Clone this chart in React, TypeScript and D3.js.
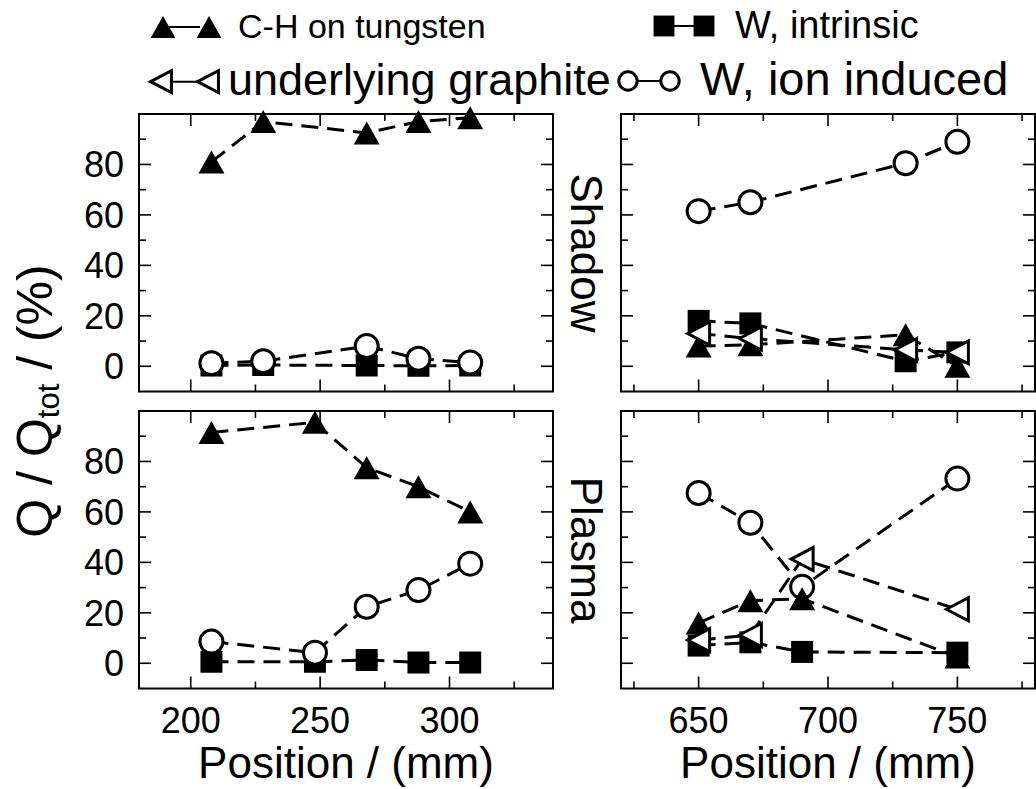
import * as d3 from "d3";

// tick values and labels
const xTicksLeft = [200, 250, 300];
const xMinorLeft = [225, 275, 325];
const xTicksRight = [650, 700, 750];
const xMinorRight = [625, 675, 725, 775];
const yTicks = [0, 20, 40, 60, 80];
const yMinor = [10, 30, 50, 70, 90];

// Shadow, low positions
const shadowLeftPos = [208, 228, 268, 288, 308];
const shadowLeftCH = [81, 97, 92.5, 97, 98.5];
const shadowLeftWIntr = [0.3, 0.5, 0.3, 0.2, 0.3];
const shadowLeftWIon = [1.2, 2, 8, 3, 1.5];

// Shadow, high positions
const shadowRightPos = [650, 670, 730, 750];
const shadowRightCH = [8, 8.5, 12.5, 0];
const shadowRightWIntr = [18, 17, 2, 5.5];
const shadowRightGraphite = [13, 11, 6.5, 5.5];
const shadowRightWIon = [61.5, 65, 80.5, 89];

// Plasma, low positions
const plasmaLeftPos = [208, 248, 268, 288, 308];
const plasmaLeftCH = [91.5, 95.5, 77.5, 70, 60];
const plasmaLeftWIntr = [0.6, 0.6, 1.3, 0.3, 0.3];
const plasmaLeftWIon = [8.6, 4.2, 22.4, 29, 39.5];

// Plasma, high positions
const plasmaRightPos = [650, 670, 690, 750];
const plasmaRightCH = [16, 24.8, 25.6, 2.5];
const plasmaRightWIntr = [7, 8.3, 4.5, 4.2];
const plasmaRightGraphite = [9.2, 11.2, 41.3, 21.4];
const plasmaRightWIon = [67.5, 55.7, 30.3, 73.2];

const FONT = "'Liberation Sans', Arial, Helvetica, sans-serif";
const LEFT_X = 139;
const RIGHT_X = 621;
const PANEL_W = 414;
const TOP_Y = 114;
const BOT_Y = 411;
const PANEL_H = 277.5;

// drawing order: square, circle, filled triangle, open triangle
const ORDER = ["wintr", "wion", "ch", "graphite"];

function markerPath(type, x, y, s = 1) {
  if (type === "ch") {
    const w = 26 * s, h = 23 * s;
    return `M${x - w / 2},${y + h / 2}L${x + w / 2},${y + h / 2}L${x},${y - h / 2}Z`;
  }
  if (type === "graphite") {
    const w = 22 * s, h = 23 * s;
    return `M${x - w / 2},${y}L${x + w / 2},${y - h / 2}L${x + w / 2},${y + h / 2}Z`;
  }
  if (type === "wintr") {
    const a = 22 * s;
    return `M${x - a / 2},${y - a / 2}h${a}v${a}h${-a}Z`;
  }
  return null;
}

function Marker({ type, x, y, s = 1 }) {
  if (type === "wion") {
    return <circle cx={x} cy={y} r={11.5 * s} fill="white" stroke="black" strokeWidth={3} />;
  }
  const open = type === "graphite";
  return (
    <path
      d={markerPath(type, x, y, s)}
      fill={open ? "white" : "black"}
      stroke={open ? "black" : "none"}
      strokeWidth={open ? 3 : 0}
      strokeLinejoin="miter"
    />
  );
}

function Panel({ x0, y0, xDomain, xMajor, xMinor, showXLabels, pos, series }) {
  const x = d3.scaleLinear().domain(xDomain).range([x0, x0 + PANEL_W]);
  const y = d3.scaleLinear().domain([-10, 100]).range([y0 + PANEL_H, y0]);
  const line = d3
    .line<number>()
    .x((_, i) => x(pos[i]))
    .y((d) => y(d));
  const yb = y0 + PANEL_H;
  const xr = x0 + PANEL_W;
  const keys = ORDER.filter((k) => series[k]);
  return (
    <g>
      {keys.map((k) => (
        <path key={"l" + k} d={line(series[k]) || ""} fill="none" stroke="black" strokeWidth={3} strokeDasharray="17 9" />
      ))}
      {keys.map((k) =>
        series[k].map((v, i) => <Marker key={k + i} type={k} x={x(pos[i])} y={y(v)} />)
      )}
      <rect x={x0} y={y0} width={PANEL_W} height={PANEL_H} fill="none" stroke="black" strokeWidth={2} />
      {xMajor.map((t) => (
        <g key={"xM" + t}>
          <line x1={x(t)} x2={x(t)} y1={yb} y2={yb - 12} stroke="black" strokeWidth={1.6} />
          <line x1={x(t)} x2={x(t)} y1={y0} y2={y0 + 12} stroke="black" strokeWidth={1.6} />
        </g>
      ))}
      {xMinor.map((t) => (
        <g key={"xm" + t}>
          <line x1={x(t)} x2={x(t)} y1={yb} y2={yb - 7} stroke="black" strokeWidth={1.6} />
          <line x1={x(t)} x2={x(t)} y1={y0} y2={y0 + 7} stroke="black" strokeWidth={1.6} />
        </g>
      ))}
      {yTicks.map((t) => (
        <g key={"yM" + t}>
          <line x1={x0} x2={x0 + 12} y1={y(t)} y2={y(t)} stroke="black" strokeWidth={1.6} />
          <line x1={xr} x2={xr - 12} y1={y(t)} y2={y(t)} stroke="black" strokeWidth={1.6} />
        </g>
      ))}
      {yMinor.map((t) => (
        <g key={"ym" + t}>
          <line x1={x0} x2={x0 + 7} y1={y(t)} y2={y(t)} stroke="black" strokeWidth={1.6} />
          <line x1={xr} x2={xr - 7} y1={y(t)} y2={y(t)} stroke="black" strokeWidth={1.6} />
        </g>
      ))}
      {x0 === LEFT_X &&
        yTicks.map((t) => (
          <text key={"yl" + t} x={124} y={y(t)} dy="0.36em" textAnchor="end" fontSize={36} fontFamily={FONT}>
            {t}
          </text>
        ))}
      {showXLabels &&
        xMajor.map((t) => (
          <text key={"xl" + t} x={x(t)} y={733} textAnchor="middle" fontSize={36} fontFamily={FONT}>
            {t}
          </text>
        ))}
    </g>
  );
}

function LegendEntry({ type, x1, x2, cy, tx, ty, size, label, s }) {
  return (
    <g>
      <line x1={x1} x2={x2 - 9} y1={cy} y2={cy} stroke="black" strokeWidth={2} />
      <Marker type={type} x={x1} y={cy} s={s} />
      <Marker type={type} x={x2} y={cy} s={s} />
      <text x={tx} y={ty} fontSize={size} fontFamily={FONT}>
        {label}
      </text>
    </g>
  );
}

export default function App() {
  return (
    <svg width={1036} height={789} style={{ position: "absolute", left: 0, top: 0, background: "white" }}>
      <rect width={1036} height={789} fill="white" />
      <LegendEntry type="ch" x1={163} x2={209} cy={27} tx={238} ty={38} size={34} label="C-H on tungsten" s={0.95} />
      <LegendEntry type="wintr" x1={664} x2={704} cy={26} tx={735} ty={38} size={38} label="W, intrinsic" s={0.95} />
      <LegendEntry type="graphite" x1={161} x2={208} cy={81.7} tx={228} ty={95} size={45} label="underlying graphite" s={0.95} />
      <LegendEntry type="wion" x1={628} x2={670} cy={81} tx={700} ty={95} size={47} label="W, ion induced" s={0.8} />

      <Panel
        x0={LEFT_X} y0={TOP_Y} xDomain={[180, 340]} xMajor={xTicksLeft} xMinor={xMinorLeft} showXLabels={false}
        pos={shadowLeftPos}
        series={{ wintr: shadowLeftWIntr, wion: shadowLeftWIon, ch: shadowLeftCH }}
      />
      <Panel
        x0={RIGHT_X} y0={TOP_Y} xDomain={[620, 780]} xMajor={xTicksRight} xMinor={xMinorRight} showXLabels={false}
        pos={shadowRightPos}
        series={{ wintr: shadowRightWIntr, wion: shadowRightWIon, ch: shadowRightCH, graphite: shadowRightGraphite }}
      />
      <Panel
        x0={LEFT_X} y0={BOT_Y} xDomain={[180, 340]} xMajor={xTicksLeft} xMinor={xMinorLeft} showXLabels={true}
        pos={plasmaLeftPos}
        series={{ wintr: plasmaLeftWIntr, wion: plasmaLeftWIon, ch: plasmaLeftCH }}
      />
      <Panel
        x0={RIGHT_X} y0={BOT_Y} xDomain={[620, 780]} xMajor={xTicksRight} xMinor={xMinorRight} showXLabels={true}
        pos={plasmaRightPos}
        series={{ wintr: plasmaRightWIntr, wion: plasmaRightWIon, ch: plasmaRightCH, graphite: plasmaRightGraphite }}
      />

      <text transform="translate(571,253) rotate(90)" textAnchor="middle" fontSize={44} fontFamily={FONT}>
        Shadow
      </text>
      <text transform="translate(571,550) rotate(90)" textAnchor="middle" fontSize={44} fontFamily={FONT}>
        Plasma
      </text>

      <text transform="translate(52,401) rotate(-90)" textAnchor="middle" fontSize={50} fontFamily={FONT}>
        Q / Q<tspan fontSize={31} dy={7}>tot</tspan>
        <tspan dy={-7}> / (%)</tspan>
      </text>

      <text x={346} y={778} textAnchor="middle" fontSize={44} fontFamily={FONT}>
        Position / (mm)
      </text>
      <text x={828} y={778} textAnchor="middle" fontSize={44} fontFamily={FONT}>
        Position / (mm)
      </text>
    </svg>
  );
}
